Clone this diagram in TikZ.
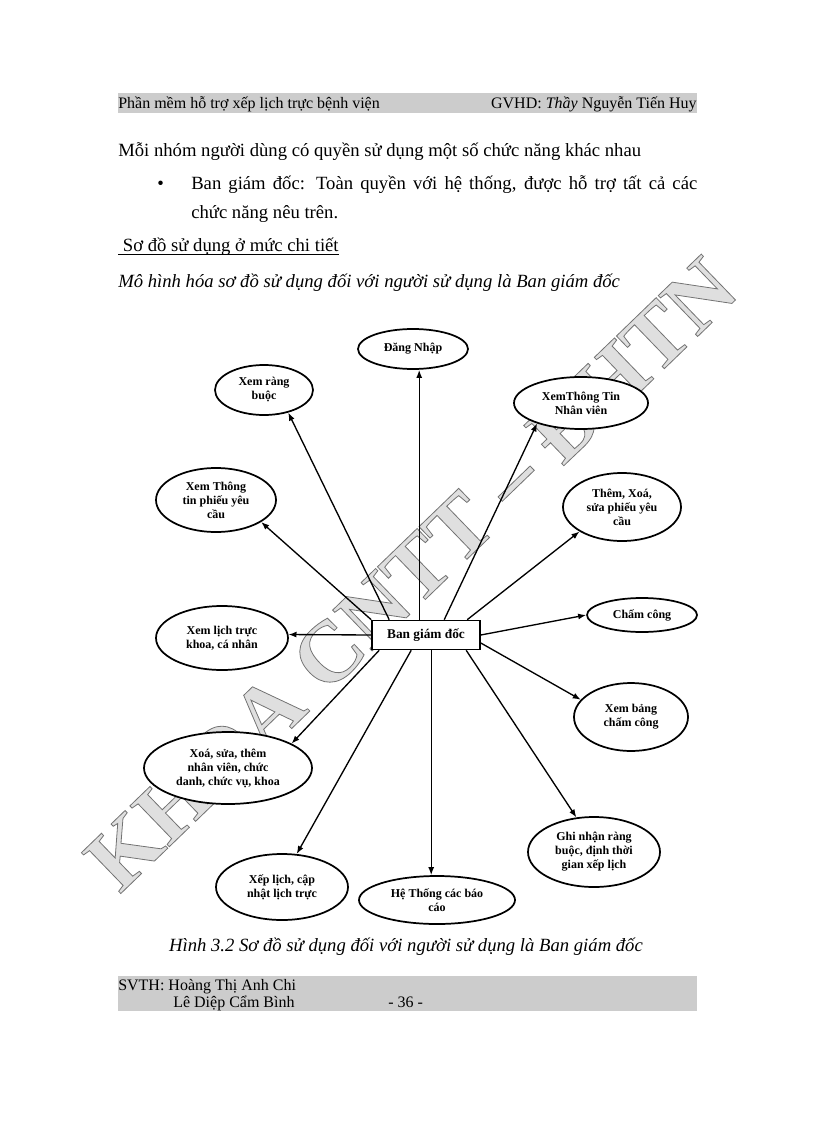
\documentclass[tikz,border=0pt]{standalone}
\usepackage{fontspec}
\setmainfont{Liberation Serif}
\usetikzlibrary{arrows.meta,shapes.geometric,positioning}

% watermark text: light fill, darker outline
\newcommand{\wmoutline}[1]{\special{pdf:literal direct 0.45 G 2 Tr 0.6 w}#1\special{pdf:literal direct 0 Tr}}

\begin{document}
\begin{tikzpicture}[
    x=0.75pt, y=-0.75pt,
    >={Latex[length=6pt,width=4.5pt]},
    usecase/.style={ellipse, draw, line width=1.3pt, fill=white, inner sep=0pt,
        align=center, font=\fontsize{9}{10.5}\selectfont\bfseries},
    actor/.style={rectangle, draw, line width=1.2pt, fill=white,
        minimum width=81pt, minimum height=21.75pt,
        font=\fontsize{10}{12}\selectfont\bfseries},
    link/.style={->, line width=1pt},
    bar/.style={fill=gray!40, draw=none},
    body/.style={anchor=base west, inner sep=0pt, font=\fontsize{14}{16}\selectfont},
    small/.style={anchor=base west, inner sep=0pt, font=\fontsize{12}{14}\selectfont},
    wmfont/.style={rotate=44, inner sep=0pt, text=gray!25, font=\fontsize{65}{65}\selectfont\bfseries}
]

    \useasboundingbox (0,0) rectangle (816,1123);

    % Header
    \fill[bar] (118,93) rectangle (697,113);
    \node[small] (hleft) at (118,109) {Phần mềm hỗ trợ xếp lịch trực bệnh viện};
    \node[small, anchor=base east] (hright) at (697,109) {GVHD: \textit{Thầy} Nguyễn Tiến Huy};

    % Text above the figure
    \node[body] (intro) at (118,157) {Mỗi nhóm người dùng có quyền sử dụng một số chức năng khác nhau};
    \node[body] (bullet) at (157,190) {•};
    \node[body] (line1) at (191,190) {\makebox[379.5pt][s]{Ban giám đốc: Toàn quyền với hệ thống, được hỗ trợ tất cả các}};
    \node[body] (line2) at (191,219) {chức năng nêu trên.};
    \node[body] (sodo) at (118,252) {\ Sơ đồ sử dụng ở mức chi tiết};
    \draw[line width=0.8pt] ([yshift=-2.2pt]sodo.base west) -- ([yshift=-2.2pt]sodo.base east);
    \node[body, font=\fontsize{14}{16}\selectfont\itshape] (mohinh) at (118,287)
        {Mô hình hóa sơ đồ sử dụng đối với người sử dụng là Ban giám đốc};

    % Watermark
    \node[wmfont] (wm) at (411,574) {\wmoutline{KHOA CNTT -- ĐHTN}};

    % Actor
    \node[actor] (bgd) at (426,635) {Ban giám đốc};

    % Use cases
    \node[usecase, minimum width=82.5pt, minimum height=30pt]  (dangnhap) at (413,349) {Đăng Nhập};
    \node[usecase, minimum width=73.5pt, minimum height=37.5pt] (xemrb)   at (264,390) {Xem ràng\\buộc};
    \node[usecase, minimum width=100.5pt, minimum height=39pt]  (xemttnv) at (581,403) {XemThông Tin\\Nhân viên};
    \node[usecase, minimum width=90pt, minimum height=48pt]     (xemttpyc) at (216,500) {Xem Thông\\tin phiếu yêu\\cầu};
    \node[usecase, minimum width=88.5pt, minimum height=51pt]   (themxoa) at (622,507) {Thêm, Xoá,\\sửa phiếu yêu\\cầu};
    \node[usecase, minimum width=82.5pt, minimum height=25.5pt] (chamcong) at (642,615) {Chấm công};
    \node[usecase, minimum width=85.5pt, minimum height=51pt]   (xembang) at (631,717) {Xem bảng\\chấm công};
    \node[usecase, minimum width=99pt, minimum height=48pt]     (xemlich) at (222,638) {Xem lịch trực\\khoa, cá nhân};
    \node[usecase, minimum width=126pt, minimum height=54pt]    (xoasua)  at (228,768) {Xoá, sửa, thêm\\nhân viên, chức\\danh, chức vụ, khoa};
    \node[usecase, minimum width=99pt, minimum height=49.5pt]   (xeplich) at (282,887) {Xếp lịch, cập\\nhật lịch trực};
    \node[usecase, minimum width=117pt, minimum height=36pt]    (hethong) at (437,900) {Hệ Thống các báo\\cáo};
    \node[usecase, minimum width=99pt, minimum height=52.5pt]   (ghinhan) at (594,852) {Ghi nhận ràng\\buộc, định thời\\gian xếp lịch};

    % Connectors
    \coordinate (dnfoot) at ([xshift=36pt]bgd.north west);
    \draw[link] (dnfoot) -- (dnfoot |- dangnhap.south);
    \draw[link] ([xshift=13.5pt]bgd.north west) -- (xemrb.-43);
    \draw[link] (bgd.north west) -- (xemttpyc.-26);
    \draw[link] ([xshift=54.75pt]bgd.north west) -- (xemttnv.-155);
    \draw[link] ([xshift=72pt]bgd.north west) -- (themxoa.-150);
    \draw[link] (bgd.east) -- (chamcong.west);
    \draw[link] ([yshift=-6pt]bgd.east) -- (xembang.161);
    \draw[link] (bgd.west) -- (xemlich.3);
    \draw[link] ([xshift=6pt]bgd.south west) -- (xoasua.21);
    \draw[link] ([xshift=30pt]bgd.south west) -- (xeplich.66);
    \coordinate (htfoot) at ([xshift=45pt]bgd.south west);
    \draw[link] (htfoot) -- (htfoot |- hethong.north);
    \draw[link] ([xshift=71.25pt]bgd.south west) -- (ghinhan.117);

    % Caption and footer
    \node[body, anchor=base, font=\fontsize{14}{16}\selectfont\itshape] (caption) at (406,951)
        {Hình 3.2 Sơ đồ sử dụng đối với người sử dụng là Ban giám đốc};
    \fill[bar] (118,976) rectangle (697,1011);
    \node[small] (svth) at (118,990) {SVTH: Hoàng Thị Anh Chi};
    \node[small] (svth2) at (173,1007) {Lê Diệp Cẩm Bình};
    \node[small] (page) at (388,1007) {- 36 -};

\end{tikzpicture}
\end{document}
